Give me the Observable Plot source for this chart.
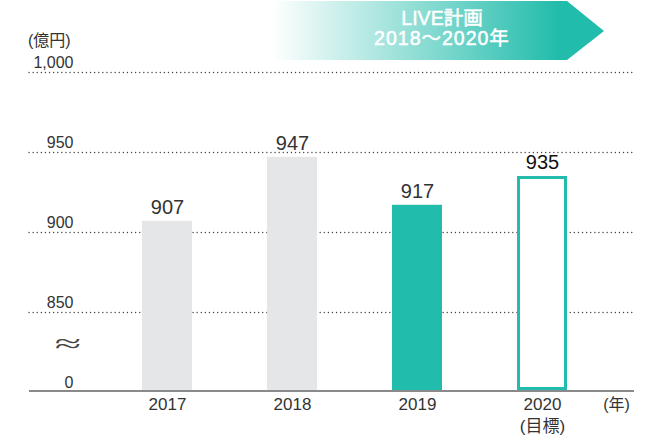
<!DOCTYPE html>
<html>
<head>
<meta charset="utf-8">
<script src="https://cdn.jsdelivr.net/npm/d3@7"></script>
<script src="https://cdn.jsdelivr.net/npm/@observablehq/plot@0.6"></script>
<style>
  html, body { margin: 0; padding: 0; background: #fff; }
  #chart svg { display: block; }
</style>
</head>
<body>
<div id="chart"></div>
<script>
const years = ["2017", "2018", "2019", "2020"];
const values = [907, 947, 917, 935];
const subLabels = ["", "", "", "(目標)"];
const barKinds = ["past", "past", "actual", "target"];
const tickValues = [1000, 950, 900, 850, 800];
const tickLabels = ["1,000", "950", "900", "850", "0"];
const gridValues = [850, 900, 950, 1000];
const unitLabel = "(億円)";
const yearUnit = "(年)";
const bannerLines = ["LIVE計画", "2018～2020年"];

const data = years.map((y, i) => ({year: y, value: values[i], sub: subLabels[i], kind: barKinds[i]}));
const ticks = tickValues.map((v, i) => ({v, label: tickLabels[i]}));

const FONT = '"Liberation Sans", "Noto Sans CJK JP", sans-serif';
const GRAY = "#e5e6e7";
const TEAL = "#21bcab";
const TEXT = "#333333";

const chart = Plot.plot({
  width: 651,
  height: 441,
  marginTop: 0,
  marginLeft: 29,
  marginRight: 17,
  marginBottom: 49,
  style: {fontFamily: FONT, background: "#fff", overflow: "visible"},
  x: {type: "band", domain: years, range: [104, 604], paddingInner: 0.6, paddingOuter: 0.3, axis: null},
  y: {domain: [800, 1000], range: [392, 72], axis: null},
  marks: [
    Plot.ruleY(gridValues, {stroke: "#444", strokeWidth: 1.3, strokeDasharray: "0.1,4", strokeLinecap: "round"}),
    Plot.barY(data.filter(d => d.kind !== "target"), {
      x: "year", y1: 800, y2: "value",
      fill: d => d.kind === "actual" ? TEAL : GRAY
    }),
    Plot.barY(data.filter(d => d.kind === "target"), {
      x: "year", y1: 800, y2: "value",
      fill: "#fff", stroke: TEAL, strokeWidth: 3,
      insetLeft: 1.5, insetRight: 1.5, insetTop: 1.5, insetBottom: 3.5
    }),
    Plot.ruleY([800], {stroke: "#8a8a8a", strokeWidth: 2, dy: -1.5}),
    Plot.text(data, {
      x: "year", y: "value", text: d => String(d.value),
      dy: -14, fontSize: 20, fill: d => d.kind === "target" ? "#111" : TEXT,
      fontWeight: d => d.kind === "target" ? "bold" : "normal"
    }),
    Plot.text(ticks, {
      y: "v", text: "label", frameAnchor: "left", textAnchor: "end",
      dx: 44, dy: -10, fontSize: 16, fill: TEXT
    }),
    Plot.text(data, {
      x: "year", text: "year", frameAnchor: "bottom", dy: 17, fontSize: 17, fill: TEXT
    }),
    Plot.text(data, {
      x: "year", text: "sub", frameAnchor: "bottom", dy: 39, fontSize: 17, fill: TEXT
    }),
    Plot.text([yearUnit], {
      text: d => d, frameAnchor: "bottom-right", textAnchor: "middle",
      dx: -18, dy: 17, fontSize: 16, fill: TEXT
    })
  ]
});

document.getElementById("chart").appendChild(chart);

const svg = d3.select(chart);

// unit label and scale-break mark
svg.append("text")
  .attr("x", 28).attr("y", 42)
  .attr("text-anchor", "start")
  .attr("dominant-baseline", "middle")
  .attr("font-family", FONT).attr("font-size", 16).attr("fill", TEXT)
  .text(unitLabel);
svg.append("text")
  .attr("x", 68).attr("y", 343)
  .attr("text-anchor", "middle").attr("dominant-baseline", "central")
  .attr("font-family", '"DejaVu Sans"').attr("font-size", 30).attr("font-weight", 200)
  .attr("fill", "#444")
  .attr("transform", "translate(68,343) scale(1.6,0.85) translate(-68,-343)")
  .text("≈");

// banner (decorative arrow with gradient)
const defs = svg.insert("defs", ":first-child");
const grad = defs.append("linearGradient").attr("id", "bannerGrad")
  .attr("gradientUnits", "userSpaceOnUse")
  .attr("x1", 272).attr("y1", 0).attr("x2", 560).attr("y2", 0);
grad.append("stop").attr("offset", "0").attr("stop-color", "#ffffff");
grad.append("stop").attr("offset", "1").attr("stop-color", TEAL);

const banner = svg.append("g");
banner.append("path")
  .attr("d", "M272,1 L567,1 L604,31 L567,60 L272,60 Z")
  .attr("fill", "url(#bannerGrad)");
banner.selectAll("text.b").data(bannerLines).join("text")
  .attr("x", 442)
  .attr("y", (d, i) => 20 + i * 20)
  .attr("text-anchor", "middle")
  .attr("dominant-baseline", "middle")
  .attr("fill", "#fff")
  .attr("stroke", "#fff")
  .attr("stroke-width", 0.5)
  .attr("font-family", FONT)
  .attr("font-size", 19.5)
  .attr("letter-spacing", (d, i) => i === 1 ? 1 : 0)
  .text(d => d);
</script>
</body>
</html>
